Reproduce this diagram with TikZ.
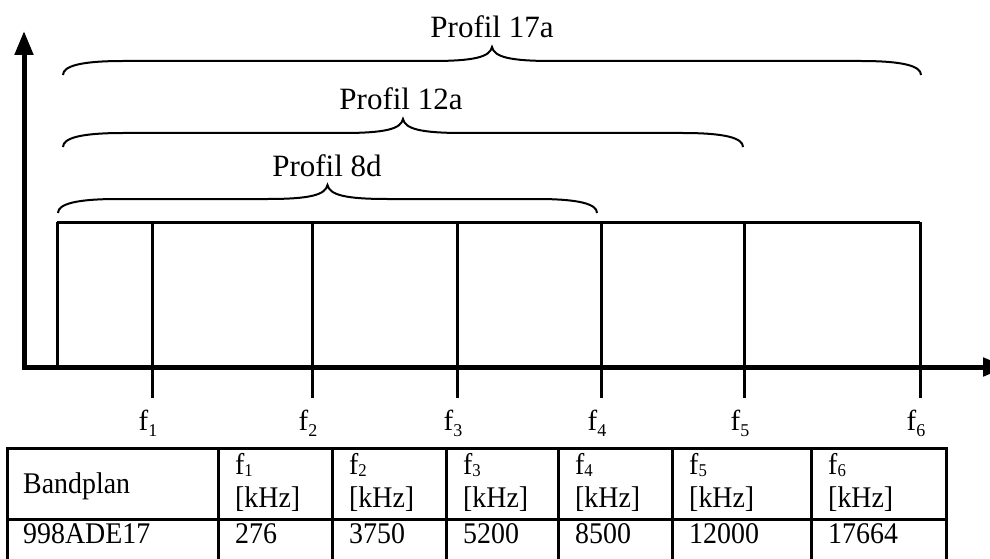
\documentclass[tikz,border=0pt]{standalone}
\usepackage{fontspec}
\setmainfont{Liberation Serif}
\newfontfamily\tabfont{Liberation Serif}[FakeStretch=0.93]
\usetikzlibrary{arrows.meta}
\newcommand{\fs}[1]{f\raisebox{-0.22em}{\fontsize{18}{18}\selectfont #1}}
\newcommand{\fst}[1]{f\raisebox{-0.08em}{\fontsize{18}{18}\selectfont #1}}
\newcommand{\profbrace}[3]{%
  \pgfmathsetmacro\bxc{(#1+#2)/2}%
  \draw[brc] (#1,#3) .. controls (#1,#3-9) and (#1+18,#3-14) .. (#1+60,#3-14)
    -- (\bxc-60,#3-14) .. controls (\bxc-18,#3-14) and (\bxc-2,#3-18) .. (\bxc,#3-28)
    .. controls (\bxc+2,#3-18) and (\bxc+18,#3-14) .. (\bxc+60,#3-14)
    -- (#2-60,#3-14) .. controls (#2-18,#3-14) and (#2,#3-9) .. (#2,#3);}
\begin{document}
\begin{tikzpicture}[x=1pt,y=-1pt,
  axis/.style={line width=5pt, line join=miter},
  bandline/.style={line width=3pt},
  brc/.style={line width=2pt},
  tab/.style={line width=3pt},
  lbl/.style={font=\fontsize{31}{33}\selectfont, inner sep=0pt},
  flbl/.style={font=\fontsize{29}{31}\selectfont, inner sep=0pt},
  tabtxt/.style={font=\tabfont\fontsize{30}{32}\selectfont, inner sep=0pt, anchor=base west}]
\clip (0,0) rectangle (990,559);
% axes
\coordinate (ytop) at (24,31);
\coordinate (orig) at (24,367);
\coordinate (xend) at (1007,367);
\draw[axis, {Triangle[width=18pt,length=24pt]}-{Triangle[width=18pt,length=24pt]}] (ytop) -- (orig) -- (xend);
% band rectangle and frequency lines
\coordinate (r0) at (57,367);
\coordinate (r0t) at (57,222);
\draw[bandline] (r0) -- (r0t);
\foreach \x/\n in {152/1,312/2,457/3,601/4,744/5,920/6}{
  \coordinate (t\n) at (\x,222);
  \coordinate (b\n) at (\x,398);
  \draw[bandline] (t\n) -- (b\n);
  \node[flbl, anchor=base] (lab\n) at (\x-4,430) {\fs{\n}};
}
\draw[bandline] (r0t) -- (t6);
% braces
\profbrace{63}{921}{75}
\profbrace{63}{743}{147}
\profbrace{58}{597}{213}
\node[lbl, anchor=base] (p17) at (492,38) {Profil 17a};
\node[lbl, anchor=base] (p12) at (401,110) {Profil 12a};
\node[lbl, anchor=base] (p8) at (327,176) {Profil 8d};
% table
\draw[tab] (7,575) -- (7,448) -- (946,448) -- (946,575);
\draw[tab] (7,519) -- (946,519);
\foreach \x in {218,332,446,558,672,811}{
  \draw[tab] (\x,448) -- (\x,575);
}
\node[tabtxt] (bp) at (23,493) {Bandplan};
\node[tabtxt] (id) at (23,543) {998ADE17};
\foreach \x/\n/\v in {218/1/276,332/2/3750,446/3/5200,558/4/8500,672/5/12000,811/6/17664}{
  \node[tabtxt] (hf\n) at (\x+17,474) {\fst{\n}};
  \node[tabtxt] (hk\n) at (\x+17,507) {[kHz]};
  \node[tabtxt] (v\n) at (\x+17,543) {\v};
}
\end{tikzpicture}
\end{document}
